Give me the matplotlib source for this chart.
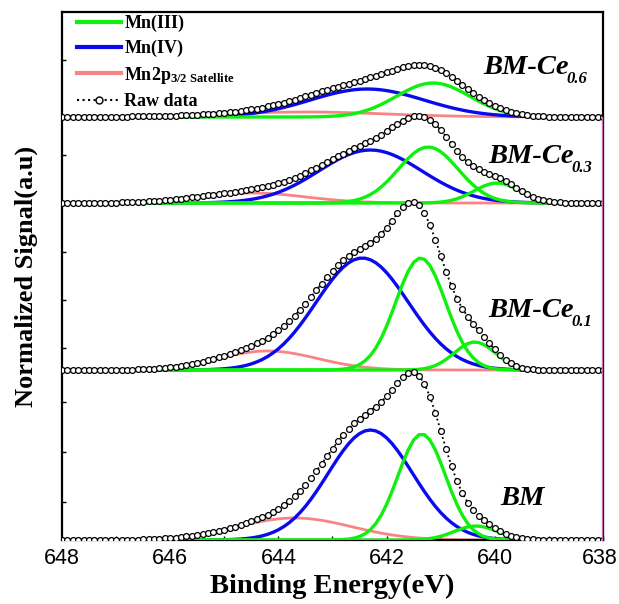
import numpy as np
import matplotlib
matplotlib.use("Agg")
import matplotlib.pyplot as plt
from matplotlib.lines import Line2D
from matplotlib.transforms import ScaledTranslation

plt.rcParams['mathtext.fontset'] = 'custom'
plt.rcParams['mathtext.rm'] = 'Liberation Serif:bold'
plt.rcParams['mathtext.it'] = 'Liberation Serif:italic:bold'
plt.rcParams['mathtext.bf'] = 'Liberation Serif:bold'

# ---- data (binding energy in eV, intensity in arbitrary units) ----
sample_base = ["BM", "BM-Ce", "BM-Ce", "BM-Ce"]
sample_sub = ["", "0.1", "0.3", "0.6"]
energy_start, energy_stop, energy_step = 648.0, 638.0, 0.1

# Mn(III) main peak: centre, height, sigma
mn3_center = [641.35, 641.37, 641.23, 641.14]
mn3_height = [106, 112, 56, 34]
mn3_sigma = [0.44, 0.46, 0.55, 0.68]
# Mn(III) low-energy peak
mn3b_center = [640.35, 640.37, 639.96, 639.9]
mn3b_height = [14, 28, 20, 0]
mn3b_sigma = [0.40, 0.38, 0.42, 0.4]
# Mn(IV)
mn4_center = [642.3, 642.45, 642.3, 642.36]
mn4_height = [110, 112, 53, 28]
mn4_sigma = [0.78, 0.85, 0.95, 1.05]
# Mn2p3/2 satellite
sat_center = [643.7, 644.2, 644.5, 643.5]
sat_height = [22, 19, 10, 5]
sat_sigma = [1.05, 0.92, 1.00, 1.50]

xticks = [648, 646, 644, 642, 640, 638]

# ---- layout ----
offsets = [0, 170, 337, 423]
label_pos = [(639.9, 35), (640.13, 223), (640.13, 377), (640.22, 466)]

W, H = 619, 604
fig = plt.figure(figsize=(W / 100, H / 100), dpi=100)
ax = fig.add_axes([62 / W, (H - 540) / H, (603 - 62) / W, (540 - 12) / H])

x = np.arange(energy_start, energy_stop - 1e-9, -energy_step)

def gauss(c, h, s):
    return h * np.exp(-(x - c) ** 2 / (2 * s ** 2))

green = '#0ff00f'
blue = '#0a0aee'
pink = '#f88484'

for i in range(4):
    off = offsets[i]
    g1 = gauss(mn3_center[i], mn3_height[i], mn3_sigma[i])
    g2 = gauss(mn3b_center[i], mn3b_height[i], mn3b_sigma[i])
    b = gauss(mn4_center[i], mn4_height[i], mn4_sigma[i])
    p = gauss(sat_center[i], sat_height[i], sat_sigma[i])
    raw = g1 + g2 + b + p
    ax.plot(x, p + off, color=pink, lw=2.0, zorder=2)
    ax.plot(x, b + off, color=blue, lw=2.4, zorder=3)
    ax.plot(x, g1 + off, color=green, lw=2.4, zorder=4)
    if mn3b_height[i] > 0:
        ax.plot(x, g2 + off, color=green, lw=2.4, zorder=4)
    ax.plot(x, raw + off, color='black', ls=':', lw=1.3, marker='o', ms=4.2,
            mfc='white', mec='black', mew=0.9, zorder=5)
    t = ax.text(label_pos[i][0], label_pos[i][1], sample_base[i], fontsize=20.5,
                family='Liberation Serif', weight='bold', style='italic',
                ha='left', va='baseline', zorder=6)
    if sample_sub[i]:
        ax.annotate(sample_sub[i], xy=(1.0, 0.0), xycoords=t, xytext=(-1.5, -2.5),
                    textcoords='offset points', fontsize=12, family='Liberation Serif',
                    weight='bold', style='italic', ha='left', va='baseline', zorder=6)

ax.set_xlim(648, 638)
ax.set_ylim(0, 528)
ax.set_xticks(xticks)
ax.set_xticks(np.arange(647, 638, -2), minor=True)
ax.set_xticklabels([str(t) for t in xticks], family='Liberation Sans', fontsize=15.5)
ax.set_yticks([540 - v for v in [60, 155, 252, 300, 348, 402, 452, 502]])
ax.set_yticklabels([])
ax.tick_params(axis='both', which='both', direction='in', top=False, right=False,
               length=3, width=1)
ax.tick_params(axis='x', which='major', pad=6)
last = ax.get_xticklabels()[-1]
last.set_transform(last.get_transform() + ScaledTranslation(-3 / 100, 0, fig.dpi_scale_trans))

for s in ['left', 'top', 'bottom']:
    ax.spines[s].set_linewidth(1.6)
    ax.spines[s].set_color('black')
ax.spines['right'].set_visible(False)
ax.plot([638, 638], [offsets[3], 528], color='black', lw=1.6, clip_on=False, zorder=7)
ax.plot([638.02, 638.02], [0, offsets[3]], color=pink, lw=1.0, clip_on=False, zorder=7)
ax.plot([638, 638], [0, offsets[3]], color=blue, lw=1.0, clip_on=False, zorder=7)

ax.set_xlabel('Binding Energy(eV)', family='Liberation Serif', weight='bold',
              fontsize=20.5, labelpad=3)
ax.set_ylabel('Normalized Signal(a.u)', family='Liberation Serif', weight='bold',
              fontsize=19, labelpad=14)

handles = [
    Line2D([], [], color=green, lw=3),
    Line2D([], [], color=blue, lw=3),
    Line2D([], [], color=pink, lw=3),
    Line2D([], [], color='black', ls=':', lw=1.5, marker='o', ms=5, mfc='white', mec='black'),
]
labels = ['Mn(III)', 'Mn(IV)', r'Mn2p$_{\mathrm{3/2\ Satellite}}$', 'Raw data']
leg = ax.legend(handles, labels, loc='upper left', frameon=False,
                prop={'family': 'Liberation Serif', 'weight': 'bold', 'size': 13},
                handlelength=2.4, handletextpad=0.2, labelspacing=0.42,
                borderaxespad=0.0, bbox_to_anchor=(0.015, 1.008))

fig.savefig('out.png', dpi=100)
